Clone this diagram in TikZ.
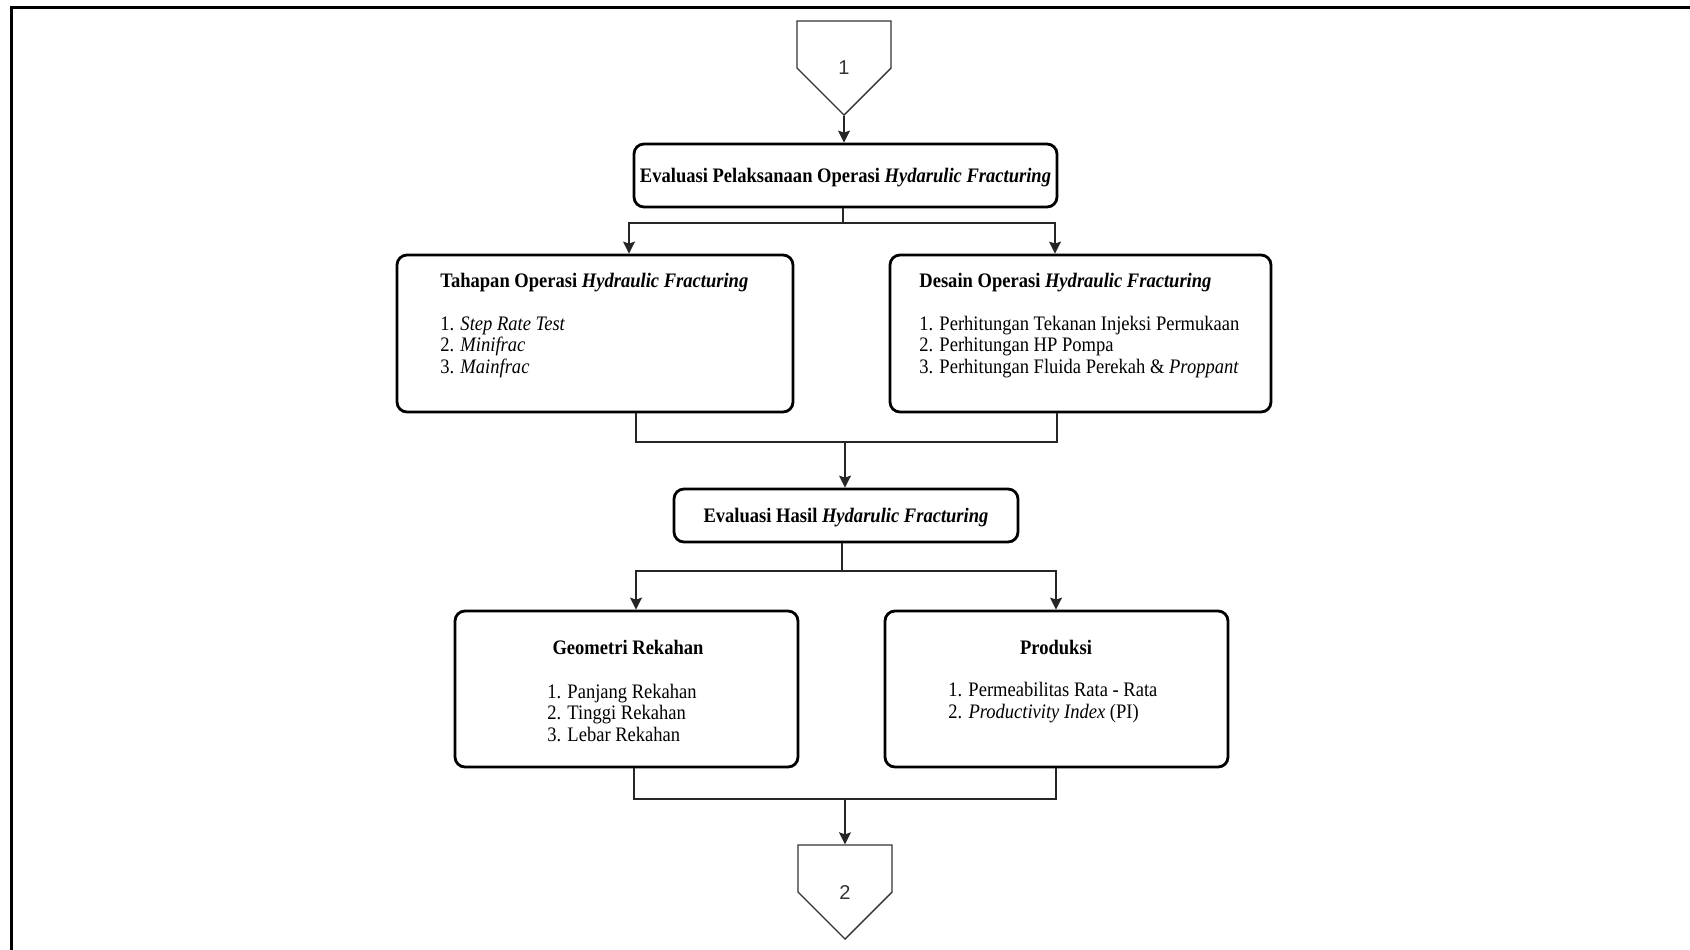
\documentclass[tikz,border=0pt]{standalone}
\usepackage{fontspec}
\setmainfont{Liberation Serif}[FakeStretch=0.9]
\newfontfamily\linkfont{Liberation Sans}
\usetikzlibrary{arrows.meta}
\usetikzlibrary{shapes.symbols}
\tikzstyle{StepBox}=[rectangle, rounded corners=5pt, draw=black, line width=1.4pt, inner sep=0pt]
\tikzstyle{PageLink}=[signal, signal to=south, draw=black!80, line width=0.7pt, inner sep=0pt, minimum width=47pt, minimum height=23.5pt]
\tikzstyle{LinkNum}=[font=\linkfont\fontsize{10}{12}\selectfont, text=black!80, yshift=-11.75pt]
\tikzstyle{Link}=[line width=0.7pt, draw=black!85]
\tikzstyle{LinkArrow}=[Link, -{Stealth[length=6pt, width=6pt, inset=1pt]}]
\tikzstyle{BoxText}=[inner sep=0pt, font=\fontsize{10.3}{10.75}\selectfont]
\tikzstyle{TitleText}=[BoxText, font=\bfseries\fontsize{10.3}{10.75}\selectfont]
\tikzstyle{ListText}=[BoxText, align=left, anchor=base west]

\begin{document}
\begin{tikzpicture}[x=0.5pt, y=-0.5pt]
\useasboundingbox (0,0) rectangle (1690,949);
\draw[line width=1.5pt] (11,960) -- (11,7) -- (1700,7);

\node[PageLink, label={[LinkNum]center:1}](P1) at (844,44.5) {};
\node[StepBox, TitleText, text depth=0pt, minimum width=211.5pt, minimum height=31.5pt](EvalOps) at (845.5,175.5) {Evaluasi Pelaksanaan Operasi \textit{Hydarulic Fracturing}};

\node[StepBox, minimum width=198pt, minimum height=78.5pt](Tahapan) at (595,333.5) {};
\node[TitleText, anchor=base west](TahapanTitle) at (440,287) {Tahapan Operasi \textit{Hydraulic Fracturing}};
\node[ListText](TahapanList) at (440,373) {1. \textit{Step Rate Test}\\2. \textit{Minifrac}\\3. \textit{Mainfrac}};

\node[StepBox, minimum width=190.5pt, minimum height=78.5pt](Desain) at (1080.5,333.5) {};
\node[TitleText, anchor=base west](DesainTitle) at (919,287) {Desain Operasi \textit{Hydraulic Fracturing}};
\node[ListText](DesainList) at (919,373) {1. Perhitungan Tekanan Injeksi Permukaan\\2. Perhitungan HP Pompa\\3. Perhitungan Fluida Perekah \& \textit{Proppant}};

\node[StepBox, TitleText, text depth=0pt, minimum width=172pt, minimum height=26.5pt](EvalHasil) at (846,515.5) {Evaluasi Hasil \textit{Hydarulic Fracturing}};

\node[StepBox, minimum width=171.5pt, minimum height=78pt](Geometri) at (626.5,689) {};
\node[TitleText, anchor=base](GeometriTitle) at (628,654) {Geometri Rekahan};
\node[ListText](GeometriList) at (547,741) {1. Panjang Rekahan\\2. Tinggi Rekahan\\3. Lebar Rekahan};

\node[StepBox, minimum width=171.5pt, minimum height=78pt](Produksi) at (1056.5,689) {};
\node[TitleText, anchor=base](ProduksiTitle) at (1056,654) {Produksi};
\node[ListText](ProduksiList) at (948,718) {1. Permeabilitas Rata - Rata\\2. \textit{Productivity Index} (PI)};

\node[PageLink, label={[LinkNum]center:2}](P2) at (845,868.5) {};

\coordinate (SplitTop) at (843,223);
\coordinate (JoinMid) at (845,442);
\coordinate (SplitLow) at (842,571);
\coordinate (JoinLow) at (845,799);

\draw[LinkArrow](P1.south) -- (P1.south |- EvalOps.north);
\draw[Link](EvalOps.south -| SplitTop) -- (SplitTop);
\draw[LinkArrow](SplitTop) -| (629,0 |- Tahapan.north);
\draw[LinkArrow](SplitTop) -| (1055,0 |- Desain.north);
\draw[Link](636,0 |- Tahapan.south) |- (JoinMid) -| (1057,0 |- Desain.south);
\draw[LinkArrow](JoinMid) -- (JoinMid |- EvalHasil.north);
\draw[Link](EvalHasil.south -| SplitLow) -- (SplitLow);
\draw[LinkArrow](SplitLow) -| (636,0 |- Geometri.north);
\draw[LinkArrow](SplitLow) -| (1056,0 |- Produksi.north);
\draw[Link](634,0 |- Geometri.south) |- (JoinLow) -| (1056,0 |- Produksi.south);
\draw[LinkArrow](JoinLow) -- (JoinLow |- P2.north);
\end{tikzpicture}
\end{document}
